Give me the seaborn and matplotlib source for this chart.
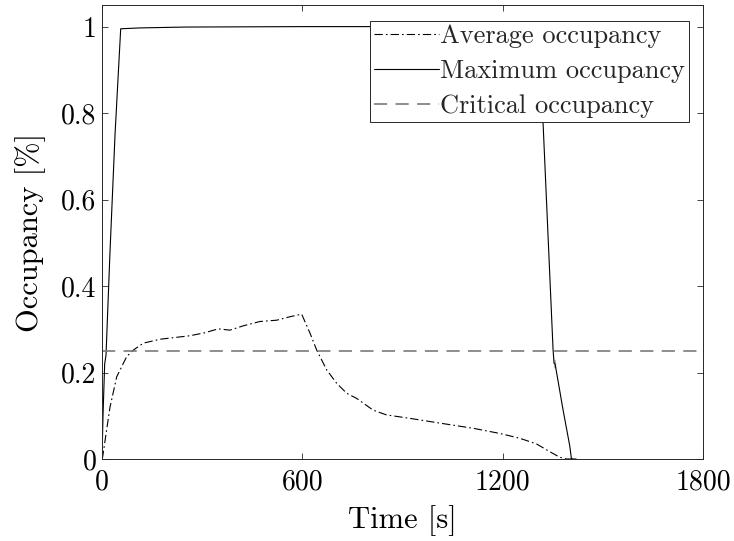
import numpy as np
import pandas as pd
import matplotlib
matplotlib.use("Agg")
import matplotlib.pyplot as plt
import seaborn as sns

# ---- data ----
t_avg = [0, 2, 24, 44, 74, 94, 124, 174, 263, 308, 348, 383, 423, 473, 523, 563, 598,
         623, 643, 673, 703, 733, 763, 812, 852, 922, 1012, 1112, 1192, 1251, 1301, 1341,
         1371, 1391, 1420]
avg_occ = [0.0, 0.005, 0.12, 0.19, 0.237, 0.252, 0.268, 0.277, 0.285, 0.292, 0.301, 0.298,
           0.308, 0.318, 0.321, 0.329, 0.335, 0.291, 0.252, 0.206, 0.175, 0.152, 0.140,
           0.113, 0.102, 0.094, 0.083, 0.071, 0.059, 0.048, 0.035, 0.017, 0.004, 0.0, 0.0]

t_max = [0, 3, 8, 12, 24, 39, 56, 114, 250, 600, 900, 1200, 1306, 1321, 1351, 1354, 1354,
         1357, 1357, 1381, 1401, 1406, 1420]
max_occ = [0.0, 0.10, 0.22, 0.24, 0.48, 0.75, 0.995, 0.997, 0.999, 1.0, 1.0, 1.0, 1.0,
           0.777, 0.252, 0.23, 0.212, 0.212, 0.228, 0.113, 0.03, 0.0, 0.0]

t_crit = [0, 1800]
crit_occ = [0.25, 0.25]

x_ticks = [0, 600, 1200, 1800]
y_ticks = [0, 0.2, 0.4, 0.6, 0.8, 1]
y_tick_labels = ["0", "0.2", "0.4", "0.6", "0.8", "1"]
labels = ["Average occupancy", "Maximum occupancy", "Critical occupancy"]

# ---- style ----
sns.set_theme(style="white")
plt.rcParams["font.family"] = ["cmr10", "DejaVu Serif"]
plt.rcParams["axes.formatter.use_mathtext"] = True
plt.rcParams["lines.scale_dashes"] = False

ink = "#262626"
fig = plt.figure(figsize=(7.34, 5.41), dpi=100)
ax = fig.add_axes([102 / 734, 1 - 459 / 541, 601 / 734, 454 / 541])

sns.lineplot(x=t_avg, y=avg_occ, ax=ax, color="black", lw=0.8,
             linestyle=(0, (6, 2.2, 1.2, 2.2)), label=labels[0], sort=False)
sns.lineplot(x=t_max, y=max_occ, ax=ax, color="black", lw=0.8,
             linestyle="-", label=labels[1], sort=False)
sns.lineplot(x=t_crit, y=crit_occ, ax=ax, color="#7a7a7a", lw=1.2,
             linestyle=(0, (9.5, 6)), label=labels[2], sort=False)

ax.set_xlim(0, 1800)
ax.set_ylim(0, 1.05)
ax.set_xticks(x_ticks)
ax.set_xticklabels([str(v) for v in x_ticks])
ax.set_yticks(y_ticks)
ax.set_yticklabels(y_tick_labels)

ax.tick_params(axis="both", which="major", direction="in", length=4.3, width=0.6,
               colors=ink, labelcolor="black", labelsize=20, pad=4,
               top=True, right=True, bottom=True, left=True)
ax.tick_params(axis="x", pad=7)
for s in ax.spines.values():
    s.set_color(ink)
    s.set_linewidth(0.7)
    s.set_visible(True)

ax.set_xlabel("Time [s]", fontsize=22, color="black", labelpad=7)
ax.set_ylabel("Occupancy [%]", fontsize=22, color="black", labelpad=11)

leg = ax.legend(loc="upper right", bbox_to_anchor=(0.9767, 0.9654), borderaxespad=0,
                fontsize=19, frameon=True, fancybox=False, framealpha=1,
                edgecolor=ink, handlelength=2.45, handletextpad=0.05,
                labelspacing=0.42, borderpad=0.15)
leg.get_frame().set_linewidth(0.7)

fig.savefig("out.png", dpi=100)
